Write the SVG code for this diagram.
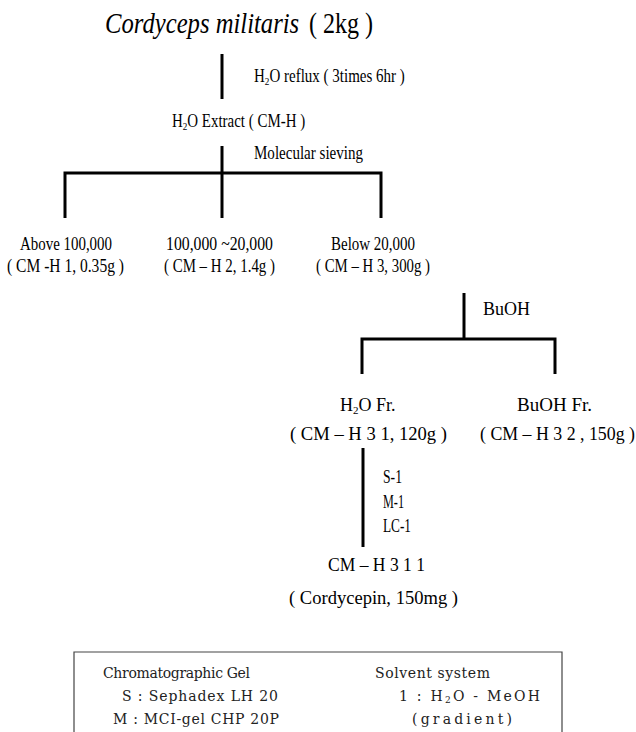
<svg xmlns="http://www.w3.org/2000/svg" width="636" height="732" viewBox="0 0 636 732">
<style>
  text { font-family: "Liberation Serif", "Times New Roman", serif; fill: #000; }
  .t { font-size: 18px; }
  .title { font-size: 29px; }
  .box { font-family: "DejaVu Serif", "Liberation Serif", serif; font-size: 14px; fill: #222; }
  .sub { font-size: 11px; }
  .ln { stroke: #000; stroke-width: 3; fill: none; stroke-linecap: butt; }
  .frame { stroke: #444; stroke-width: 1.2; fill: none; }
</style>
<rect width="636" height="732" fill="#fff"/>

<g id="connectors">
  <line class="ln" x1="222" y1="54" x2="222" y2="99"/>
  <line class="ln" x1="222" y1="146" x2="222" y2="218"/>
  <polyline class="ln" points="65,218 65,173 381,173 381,218"/>
  <line class="ln" x1="464" y1="293" x2="464" y2="339"/>
  <polyline class="ln" points="362,374 362,339 555,339 555,374"/>
  <line class="ln" x1="363" y1="448" x2="363" y2="547"/>
</g>

<g id="node-title">
  <text class="title" font-style="italic" transform="translate(105,33) scale(0.85,1)">Cordyceps militaris</text>
  <text class="title" transform="translate(309,33) scale(0.83,1)">( 2kg )</text>
</g>

<g id="label-reflux">
  <text class="t" transform="translate(254,82) scale(0.834,1)">H<tspan class="sub" dy="3">2</tspan><tspan dy="-3">O reflux ( 3times 6hr )</tspan></text>
</g>

<g id="node-extract">
  <text class="t" transform="translate(172,127) scale(0.83,1)">H<tspan class="sub" dy="3">2</tspan><tspan dy="-3">O Extract ( CM-H )</tspan></text>
</g>

<g id="label-sieving">
  <text class="t" x="254" y="159" textLength="109" lengthAdjust="spacingAndGlyphs">Molecular sieving</text>
</g>

<g id="node-cmh1">
  <text class="t" x="20" y="250" textLength="92" lengthAdjust="spacingAndGlyphs">Above 100,000</text>
  <text class="t" x="7" y="272" textLength="117" lengthAdjust="spacingAndGlyphs">( CM  -H 1, 0.35g )</text>
</g>

<g id="node-cmh2">
  <text class="t" x="166" y="250" textLength="107" lengthAdjust="spacingAndGlyphs">100,000 ~20,000</text>
  <text class="t" x="164" y="272" textLength="111" lengthAdjust="spacingAndGlyphs">( CM – H 2, 1.4g )</text>
</g>

<g id="node-cmh3">
  <text class="t" x="331" y="250" textLength="84" lengthAdjust="spacingAndGlyphs">Below 20,000</text>
  <text class="t" x="316" y="272" textLength="114" lengthAdjust="spacingAndGlyphs">( CM – H 3, 300g )</text>
</g>

<g id="label-buoh">
  <text class="t" x="483" y="315" textLength="47" lengthAdjust="spacingAndGlyphs">BuOH</text>
</g>

<g id="node-cmh31">
  <text class="t" x="340" y="411">H<tspan class="sub" dy="3">2</tspan><tspan dy="-3">O</tspan></text>
  <text class="t" x="376" y="411">Fr.</text>
  <text class="t" x="290" y="440" textLength="157" lengthAdjust="spacingAndGlyphs">( CM – H 3 1, 120g )</text>
</g>

<g id="node-cmh32">
  <text class="t" x="517" y="411" textLength="75" lengthAdjust="spacingAndGlyphs">BuOH  Fr.</text>
  <text class="t" x="480" y="440" textLength="155" lengthAdjust="spacingAndGlyphs">( CM – H 3 2 , 150g )</text>
</g>

<g id="label-steps">
  <text class="t" x="383" y="483" textLength="19" lengthAdjust="spacingAndGlyphs">S-1</text>
  <text class="t" x="383" y="508" textLength="21" lengthAdjust="spacingAndGlyphs">M-1</text>
  <text class="t" x="383" y="532" textLength="28" lengthAdjust="spacingAndGlyphs">LC-1</text>
</g>

<g id="node-cmh311">
  <text class="t" x="328" y="571" textLength="97" lengthAdjust="spacingAndGlyphs">CM – H 3 1 1</text>
  <text class="t" x="289" y="604" textLength="169" lengthAdjust="spacingAndGlyphs">( Cordycepin, 150mg )</text>
</g>

<g id="legend">
  <polyline class="frame" points="74,740 74,652 562,652 562,740"/>
  <text class="box" x="103" y="678" textLength="147">Chromatographic Gel</text>
  <text class="box" x="122" y="701" textLength="156">S : Sephadex LH 20</text>
  <text class="box" x="113" y="724" textLength="166">M : MCI-gel CHP 20P</text>
  <text class="box" x="375" y="678" textLength="115">Solvent system</text>
  <text class="box" x="399" y="701" textLength="141">1 : H<tspan font-size="9" dy="2">2</tspan><tspan dy="-2">O - MeOH</tspan></text>
  <text class="box" x="412" y="724" textLength="100">(gradient)</text>
</g>
</svg>
